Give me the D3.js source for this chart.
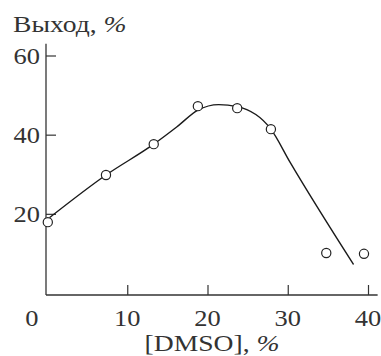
<!DOCTYPE html>
<html>
<head>
<meta charset="utf-8">
<script src="https://cdn.jsdelivr.net/npm/d3@7"></script>
<style>
  body { margin: 0; background: #fff; }
  svg text { font-family: "Liberation Serif", "Times New Roman", serif; fill: #333; }
</style>
</head>
<body>
<div id="chart"></div>
<script>
// Data
var dmso = [0.1, 7.35, 13.3, 18.8, 23.7, 27.9, 34.8, 39.5];
var yieldPct = [17.9, 29.8, 37.6, 47.2, 46.7, 41.4, 10.1, 9.9];
// hand-drawn curve through the data
var curveX = [0.3, 7.35, 13.3, 16.2, 18.8, 21.4, 23.7, 27.9, 30.3, 38.2];
var curveY = [19, 29.8, 37.6, 42, 46.2, 47.6, 47.1, 41.4, 33, 7.2];
var xTicks = [0, 10, 20, 30, 40];
var yTicks = [20, 40, 60];
var yTitle = ["Выход, ", "%"];
var xTitle = ["[DMSO], ", "%"];

var width = 381, height = 356;
var stretch = 1.15; // the scan is wider than tall

var x = d3.scaleLinear().domain([0, 40]).range([47, 368]);
var y = d3.scaleLinear().domain([0, 60]).range([293, 55.5]);

var svg = d3.select("#chart").append("svg")
    .attr("width", width)
    .attr("height", height);

// stretch text sideways to match the scan
function widen(sel) {
    sel.each(function() {
        var w = this.getComputedTextLength();
        d3.select(this)
            .attr("textLength", w * stretch)
            .attr("lengthAdjust", "spacingAndGlyphs");
    });
}

// Axes lines
svg.append("line")
    .attr("x1", x(0) - 1).attr("x2", x(0) - 1)
    .attr("y1", y(63)).attr("y2", y(0) + 2)
    .attr("stroke", "#333").attr("stroke-width", 1.3);
svg.append("line")
    .attr("x1", x(0) - 1).attr("x2", x(41.2))
    .attr("y1", y(0) + 2).attr("y2", y(0) + 2)
    .attr("stroke", "#333").attr("stroke-width", 1.3);

// Y ticks (inward)
var yAxis = d3.axisRight(y).tickValues(yTicks).tickSize(10).tickFormat("");
var gy = svg.append("g")
    .attr("transform", "translate(" + (x(0) - 1) + ",0)")
    .call(yAxis);
gy.select(".domain").remove();
gy.selectAll(".tick line").attr("stroke", "#333").attr("stroke-width", 1.2);

svg.selectAll(".ylab")
    .data(yTicks)
  .enter().append("text")
    .attr("class", "ylab")
    .attr("x", 40)
    .attr("y", function(d) { return y(d); })
    .attr("dy", "0.36em")
    .attr("text-anchor", "end")
    .style("font-size", "23px")
    .text(function(d) { return d; })
    .call(widen);

// X ticks (inward)
var xAxis = d3.axisTop(x).tickValues(xTicks.slice(1)).tickSize(10).tickFormat("");
var gx = svg.append("g")
    .attr("transform", "translate(0," + (y(0) + 2) + ")")
    .call(xAxis);
gx.select(".domain").remove();
gx.selectAll(".tick line").attr("stroke", "#333").attr("stroke-width", 1.2);

svg.selectAll(".xlab")
    .data(xTicks)
  .enter().append("text")
    .attr("class", "xlab")
    .attr("x", function(d) { return d === 0 ? x(d) - 15 : x(d); })
    .attr("y", 326)
    .attr("text-anchor", "middle")
    .style("font-size", "23px")
    .text(function(d) { return d; })
    .call(widen);

// Titles
function title(parts, tx, ty, anchor) {
    var t = svg.append("text")
        .attr("x", tx)
        .attr("y", ty)
        .attr("text-anchor", anchor)
        .style("font-size", "24px");
    t.append("tspan").text(parts[0]);
    t.append("tspan").style("font-style", "italic").text(parts[1]);
    t.call(widen);
}
title(yTitle, 13, 32, "start");
title(xTitle, 212, 351, "middle");

// Curve
var curvePts = curveX.map(function(d, i) { return [d, curveY[i]]; });
var line = d3.line()
    .x(function(d) { return x(d[0]); })
    .y(function(d) { return y(d[1]); })
    .curve(d3.curveMonotoneX);

svg.append("path")
    .attr("d", line(curvePts))
    .attr("fill", "none")
    .attr("stroke", "#1a1a1a")
    .attr("stroke-width", 1.4);

// Points
var pts = dmso.map(function(d, i) { return [d, yieldPct[i]]; });
svg.selectAll(".pt")
    .data(pts)
  .enter().append("circle")
    .attr("class", "pt")
    .attr("cx", function(d) { return x(d[0]); })
    .attr("cy", function(d) { return y(d[1]); })
    .attr("r", 4.6)
    .attr("fill", "#fff")
    .attr("stroke", "#222")
    .attr("stroke-width", 1.2);
</script>
</body>
</html>
